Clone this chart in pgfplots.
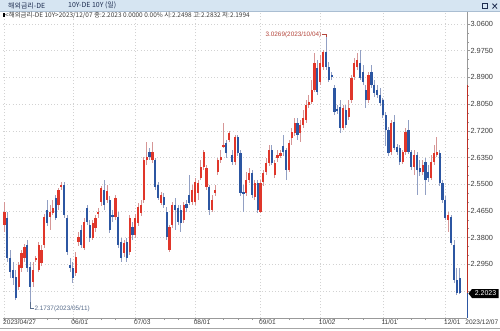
\documentclass[border=0pt]{standalone}
\usepackage{pgfplots}
\pgfplotsset{compat=1.18}
\usepackage{pgfplotstable}
\usepackage{fontspec}
\setmainfont{Liberation Sans}
\newfontfamily\kr{Noto Sans CJK KR}
\usetikzlibrary{calc}
\pgfdeclarelayer{background}
\pgfsetlayers{background,main}
\definecolor{upc}{RGB}{224,54,42}
\definecolor{dnc}{RGB}{44,86,162}
\definecolor{upw}{RGB}{214,150,150}
\definecolor{dnw}{RGB}{146,160,196}
\definecolor{hdr}{RGB}{214,229,242}
\definecolor{hdrline}{RGB}{170,190,210}
\definecolor{gridc}{RGB}{210,210,210}
\definecolor{lbl}{RGB}{60,60,60}
\definecolor{navy}{RGB}{30,45,80}
\definecolor{annr}{RGB}{180,70,60}
\definecolor{annb}{RGB}{90,110,140}

\pgfplotstableread{
i o h l c
0 2.420 2.493 2.398 2.461
1 2.442 2.461 2.302 2.315
2 2.315 2.340 2.251 2.270
3 2.277 2.302 2.229 2.251
4 2.254 2.277 2.181 2.188
5 2.223 2.302 2.213 2.293
6 2.283 2.340 2.270 2.331
7 2.315 2.360 2.302 2.350
8 2.356 2.372 2.270 2.283
9 2.286 2.302 2.1737 2.223
10 2.239 2.302 2.223 2.277
11 2.309 2.321 2.302 2.315
12 2.277 2.366 2.270 2.356
13 2.299 2.356 2.290 2.340
14 2.356 2.455 2.347 2.445
15 2.468 2.500 2.417 2.426
16 2.445 2.484 2.404 2.461
17 2.458 2.500 2.452 2.474
18 2.506 2.516 2.436 2.442
19 2.484 2.538 2.468 2.531
20 2.541 2.557 2.531 2.547
21 2.547 2.557 2.442 2.452
22 2.442 2.452 2.325 2.334
23 2.293 2.315 2.270 2.283
24 2.283 2.302 2.235 2.251
25 2.267 2.334 2.258 2.318
26 2.366 2.398 2.353 2.382
27 2.404 2.420 2.347 2.356
28 2.347 2.442 2.340 2.430
29 2.474 2.484 2.420 2.430
30 2.420 2.436 2.366 2.379
31 2.379 2.436 2.372 2.426
32 2.411 2.452 2.398 2.442
33 2.455 2.474 2.442 2.461
34 2.493 2.544 2.481 2.538
35 2.531 2.563 2.468 2.484
36 2.500 2.547 2.490 2.528
37 2.500 2.512 2.395 2.404
38 2.452 2.468 2.430 2.445
39 2.445 2.516 2.436 2.506
40 2.445 2.461 2.347 2.356
41 2.366 2.379 2.302 2.315
42 2.331 2.372 2.318 2.363
43 2.366 2.379 2.302 2.315
44 2.334 2.452 2.325 2.442
45 2.414 2.430 2.372 2.388
46 2.388 2.455 2.379 2.442
47 2.426 2.490 2.417 2.477
48 2.458 2.500 2.449 2.484
49 2.500 2.637 2.490 2.627
50 2.627 2.684 2.611 2.637
51 2.652 2.665 2.627 2.637
52 2.627 2.684 2.617 2.652
53 2.627 2.633 2.531 2.541
54 2.547 2.557 2.500 2.506
55 2.490 2.525 2.484 2.516
56 2.509 2.522 2.474 2.484
57 2.461 2.477 2.372 2.382
58 2.340 2.420 2.334 2.414
59 2.420 2.493 2.411 2.484
60 2.484 2.506 2.404 2.468
61 2.474 2.484 2.420 2.430
62 2.468 2.484 2.398 2.426
63 2.436 2.493 2.426 2.484
64 2.487 2.500 2.461 2.474
65 2.516 2.579 2.484 2.490
66 2.493 2.547 2.484 2.531
67 2.493 2.570 2.484 2.557
68 2.522 2.563 2.500 2.554
69 2.570 2.627 2.563 2.605
70 2.605 2.659 2.595 2.652
71 2.541 2.611 2.531 2.602
72 2.541 2.547 2.452 2.468
73 2.468 2.516 2.461 2.500
74 2.522 2.547 2.512 2.531
75 2.589 2.633 2.579 2.627
76 2.627 2.659 2.617 2.637
77 2.668 2.745 2.665 2.675
78 2.681 2.691 2.633 2.649
79 2.691 2.719 2.684 2.713
80 2.643 2.659 2.611 2.621
81 2.621 2.707 2.611 2.700
82 2.700 2.707 2.640 2.649
83 2.649 2.659 2.512 2.522
84 2.525 2.547 2.461 2.519
85 2.522 2.589 2.512 2.563
86 2.563 2.602 2.554 2.586
87 2.586 2.595 2.506 2.516
88 2.509 2.563 2.500 2.554
89 2.554 2.563 2.458 2.468
90 2.461 2.563 2.458 2.554
91 2.557 2.595 2.544 2.586
92 2.589 2.633 2.579 2.617
93 2.617 2.675 2.608 2.659
94 2.659 2.675 2.611 2.617
95 2.579 2.627 2.570 2.617
96 2.633 2.659 2.621 2.643
97 2.640 2.659 2.633 2.649
98 2.672 2.707 2.640 2.652
99 2.659 2.665 2.563 2.595
100 2.595 2.691 2.589 2.681
101 2.697 2.729 2.675 2.716
102 2.713 2.761 2.703 2.745
103 2.745 2.761 2.691 2.707
104 2.713 2.754 2.684 2.738
105 2.738 2.786 2.729 2.761
106 2.754 2.818 2.745 2.802
107 2.802 2.834 2.793 2.812
108 2.812 2.882 2.805 2.850
109 2.850 2.968 2.843 2.936
110 2.920 2.945 2.834 2.843
111 2.875 2.961 2.866 2.936
112 2.923 2.977 2.914 2.971
113 2.971 3.0269 2.914 2.923
114 2.923 2.939 2.875 2.882
115 2.898 2.907 2.882 2.891
116 2.856 2.866 2.770 2.780
117 2.789 2.802 2.774 2.783
118 2.796 2.818 2.713 2.729
119 2.729 2.802 2.723 2.793
120 2.786 2.802 2.729 2.738
121 2.764 2.818 2.754 2.793
122 2.818 2.898 2.808 2.888
123 2.891 2.952 2.882 2.936
124 2.923 2.968 2.914 2.945
125 2.936 2.977 2.882 2.888
126 2.907 2.930 2.866 2.875
127 2.850 2.866 2.793 2.818
128 2.818 2.907 2.808 2.898
129 2.907 2.930 2.856 2.866
130 2.866 2.882 2.827 2.840
131 2.850 2.866 2.824 2.834
132 2.834 2.856 2.799 2.808
133 2.818 2.824 2.761 2.770
134 2.770 2.780 2.672 2.723
135 2.723 2.732 2.640 2.649
136 2.652 2.754 2.643 2.745
137 2.748 2.770 2.659 2.665
138 2.668 2.678 2.643 2.652
139 2.665 2.675 2.611 2.621
140 2.621 2.659 2.614 2.652
141 2.652 2.729 2.643 2.716
142 2.723 2.754 2.646 2.652
143 2.652 2.659 2.595 2.605
144 2.605 2.659 2.579 2.643
145 2.643 2.652 2.516 2.595
146 2.602 2.627 2.576 2.589
147 2.589 2.627 2.579 2.611
148 2.621 2.633 2.516 2.563
149 2.589 2.611 2.557 2.570
150 2.570 2.643 2.563 2.621
151 2.621 2.675 2.611 2.649
152 2.643 2.700 2.637 2.652
153 2.649 2.659 2.544 2.554
154 2.554 2.563 2.490 2.500
155 2.500 2.512 2.436 2.442
156 2.436 2.461 2.398 2.452
157 2.445 2.452 2.356 2.363
158 2.356 2.372 2.235 2.245
159 2.245 2.283 2.198 2.2023
160 2.2498 2.2832 2.1994 2.2023
}\candles

\pgfplotsset{candle/.style={forget plot, draw=none, mark=none,
  error bars/y dir=both, error bars/y explicit, error bars/error mark=none}}

\begin{document}
\begin{tikzpicture}[x=1bp,y=1bp]
\begin{axis}[
  scale only axis,
  width=464bp, height=306bp,
  xmin=-0.53, xmax=162.6, ymin=2.1239, ymax=3.0982,
  axis x line*=bottom, axis y line*=right,
  axis line style={draw=gray!80, line width=0.6bp},
  tick align=outside,
  major tick length=3bp, minor tick length=2bp,
  tick style={draw=gray!80, line width=0.5bp},
  xtick={0,24,46,67,90,111,133,155},
  xticklabels={2023/04/27,06/01,07/03,08/01,09/01,10/02,11/01,12/01},
  minor xtick={5,10,15,19,29,34,39,51,56,61,72,77,82,87,95,100,105,116,121,126,138,143,148},
  ytick={2.295,2.38,2.465,2.55,2.635,2.72,2.805,2.89,2.975,3.06},
  extra y ticks={2.21}, extra y tick labels={},
  minor y tick num=2,
  xmajorgrids, ymajorgrids,
  grid style={draw=gridc, line width=0.5bp, dash pattern=on 1bp off 2.2bp},
  xticklabel style={anchor=north west, inner sep=0pt, xshift=-1.5bp, yshift=1.5bp, text=lbl, font=\fontsize{6.6}{7}\selectfont},
  yticklabel style={anchor=west, inner sep=0pt, xshift=0.3bp, text=lbl, font=\fontsize{7.4}{8}\selectfont,
    /pgf/number format/.cd, fixed, fixed zerofill, precision=4, assume math mode=true},
  clip=false,
]
\coordinate (LL) at (rel axis cs:0,0);
% wicks
\addplot[candle, error bars/error bar style={draw=upw, line width=0.8bp}]
  table[x=i, y expr={\thisrow{c}>=\thisrow{o} ? 0.5*(\thisrow{h}+\thisrow{l}) : nan},
        y error plus expr={0.5*(\thisrow{h}-\thisrow{l})},
        y error minus expr={0.5*(\thisrow{h}-\thisrow{l})}] {\candles};
\addplot[candle, error bars/error bar style={draw=dnw, line width=0.8bp}]
  table[x=i, y expr={\thisrow{c}<\thisrow{o} ? 0.5*(\thisrow{h}+\thisrow{l}) : nan},
        y error plus expr={0.5*(\thisrow{h}-\thisrow{l})},
        y error minus expr={0.5*(\thisrow{h}-\thisrow{l})}] {\candles};
% bodies
\addplot[candle, error bars/error bar style={draw=upc, line width=2.2bp}]
  table[x=i, y expr={\thisrow{c}>=\thisrow{o} ? 0.5*(\thisrow{o}+\thisrow{c}) : nan},
        y error plus expr={max(0.5*abs(\thisrow{c}-\thisrow{o}),0.0017)},
        y error minus expr={max(0.5*abs(\thisrow{c}-\thisrow{o}),0.0017)}] {\candles};
\addplot[candle, error bars/error bar style={draw=dnc, line width=2.2bp}]
  table[x=i, y expr={\thisrow{c}<\thisrow{o} ? 0.5*(\thisrow{o}+\thisrow{c}) : nan},
        y error plus expr={max(0.5*abs(\thisrow{c}-\thisrow{o}),0.0017)},
        y error minus expr={max(0.5*abs(\thisrow{c}-\thisrow{o}),0.0017)}] {\candles};
% annotations
\draw[annr, line width=0.5bp] (axis cs:111.6,3.0269) -- (axis cs:113,3.0269) -- (axis cs:113,3.020);
\node[anchor=east, inner sep=0.5bp, text=annr, font=\fontsize{6.4}{7}\selectfont] at (axis cs:111.6,3.0269) {3.0269(2023/10/04)};
\draw[annb, line width=0.5bp] (axis cs:9,2.1737) -- (axis cs:9,2.1535) -- (axis cs:10.3,2.1535);
\node[anchor=west, inner sep=0.5bp, text=annb, font=\fontsize{6.4}{7}\selectfont] at (axis cs:10.3,2.1535) {2.1737(2023/05/11)};
\end{axis}
\coordinate (O) at ($(LL)+(-3,-12)$);
\begin{scope}[shift={(O)}]
\begin{pgfonlayer}{background}
\fill[white] (0,0) rectangle (500,330);
\end{pgfonlayer}
% header bar
\fill[hdr] (0,318.5) rectangle (500,330);
\draw[hdrline,line width=0.5bp] (0,318.5) -- (500,318.5);
\node[anchor=west,inner sep=0pt,text=navy,font=\kr\fontsize{7}{8}\selectfont] at (8,324.3) {해외금리-DE};
\node[anchor=west,inner sep=0pt,text=navy,font=\kr\fontsize{7}{8}\selectfont] at (68,324.3) {10Y-DE 10Y (일)};
\draw[navy,line width=0.7bp] (482.5,321.5) rectangle (487.5,326.5);
\draw[navy,line width=0.8bp] (492.5,321.5) -- (497,326.3) (492.5,326.3) -- (497,321.5);
% info line
\fill[black] (3,312.5) rectangle (4.6,317);
\node[anchor=west,inner sep=0pt,text=lbl,font=\kr\fontsize{6.5}{7}\selectfont] at (5,314.8) {<해외금리-DE 10Y>2023/12/07 종:2.2023 0.0000 0.00\% 시:2.2498 고:2.2832 저:2.1994};
% right axis colored
\draw[gray!80, line width=1bp] (467,318) -- (467,245);
\draw[upc!85!black, line width=1bp] (467,245) -- (467,37);
\draw[dnc, line width=1bp] (467,37) -- (467,12);
% current price box
\fill[black] (468.5,36.5) -- (472,32) -- (498.5,32) -- (498.5,41) -- (472,41) -- cycle;
\node[text=white,inner sep=0pt,font=\fontsize{7}{8}\selectfont] at (485.5,36.5) {2.2023};
% last date label
\node[anchor=north east,inner sep=0pt,text=lbl,font=\fontsize{6.6}{7}\selectfont] at (498.5,10.3) {2023/12/07};
\draw[gray!70, line width=0.5bp] (0,1.5) -- (500,1.5);
\end{scope}
\pgfresetboundingbox
\path[use as bounding box] (O) rectangle ($(O)+(500,330)$);
\end{tikzpicture}
\end{document}
